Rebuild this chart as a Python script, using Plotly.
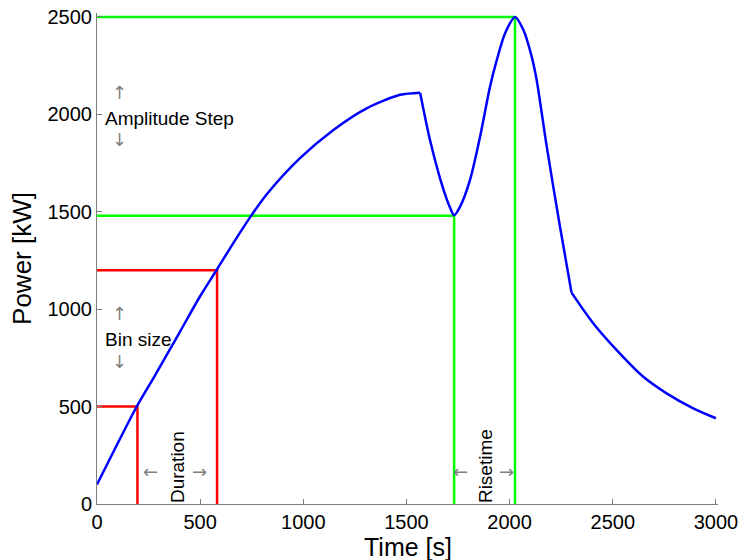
import plotly.graph_objects as go

# Power curve, split at its two sharp corners
rise_t = [0, 194, 273, 400, 499, 582, 660, 750, 823, 984, 1146, 1307, 1469, 1566]
rise_p = [100, 503, 645, 880, 1065, 1205, 1338, 1484, 1590, 1775, 1920, 2031, 2100, 2111]

peak_t = [1566, 1614, 1663, 1695, 1711, 1731, 1760, 1808, 1857, 1905, 1938, 1978, 2026,
          2067, 2107, 2131, 2180, 2244, 2300]
peak_p = [2111, 1868, 1670, 1565, 1522, 1482, 1526, 1663, 1886, 2142, 2279, 2416, 2500,
          2433, 2296, 2176, 1834, 1424, 1085]

tail_t = [2300, 2405, 2519, 2648, 2761, 2890, 3000]
tail_p = [1085, 928, 790, 653, 568, 491, 440]

# Bin size / duration markers (red)
red_t = [196, 582]
red_p = [500, 1200]
# Amplitude step / risetime markers (green)
green_t = [1731, 2026]
green_p = [1480, 2500]

x_ticks = [0, 500, 1000, 1500, 2000, 2500, 3000]
y_ticks = [0, 500, 1000, 1500, 2000, 2500]

FONT = "Liberation Sans, Arial, sans-serif"
ARROW_FONT = "DejaVu Sans, sans-serif"
GRAY = "#7f7f7f"

fig = go.Figure()

def bracket(t, p, color):
    fig.add_trace(go.Scatter(x=[0, t, t], y=[p, p, 0], mode="lines",
                             line=dict(color=color, width=2.5), showlegend=False,
                             hoverinfo="skip"))

for t, p in zip(red_t, red_p):
    bracket(t, p, "#ff0000")
for t, p in zip(green_t, green_p):
    bracket(t, p, "#00ff00")

for xs, ys in [(rise_t, rise_p), (peak_t, peak_p), (tail_t, tail_p)]:
    fig.add_trace(go.Scatter(x=xs, y=ys, mode="lines",
                             line=dict(color="#0000ff", width=2.5, shape="spline",
                                       smoothing=0.8),
                             showlegend=False))

def note(x, y, text, color="black", size=19, angle=0, xanchor="center", family=FONT):
    fig.add_annotation(x=x, y=y, xref="x", yref="y", text=text, showarrow=False,
                       textangle=angle, xanchor=xanchor, yanchor="middle",
                       font=dict(family=family, size=size, color=color))

def arrow(x, y, glyph):
    note(x, y, glyph, color=GRAY, size=18, family=ARROW_FONT)

# Amplitude step
note(29, 1981, "Amplitude Step", xanchor="left")
arrow(107, 2112, "↑")
arrow(107, 1870, "↓")
# Bin size
note(29, 842, "Bin size", xanchor="left")
arrow(107, 980, "↑")
arrow(107, 733, "↓")
# Duration
note(393, 190, "Duration", angle=-90)
arrow(257, 169, "←")
arrow(499, 169, "→")
# Risetime
note(1881, 195, "Risetime", angle=-90)
arrow(1764, 169, "←")
arrow(1987, 169, "→")

# x-axis title placed just below the tick labels
fig.add_annotation(x=0.5, y=-0.087, xref="paper", yref="paper", text="Time [s]",
                   showarrow=False, xanchor="center", yanchor="middle",
                   font=dict(family=FONT, size=25, color="black"))

axis_common = dict(showgrid=False, zeroline=False, showline=True, linecolor=GRAY,
                   linewidth=1, ticks="inside", ticklen=5, tickcolor=GRAY,
                   tickfont=dict(family=FONT, size=20, color="black"))

fig.update_xaxes(range=[0, 3010], tickvals=x_ticks, ticktext=[str(v) for v in x_ticks],
                 **axis_common)
fig.update_yaxes(range=[0, 2520], tickvals=y_ticks, ticktext=[str(v) for v in y_ticks],
                 title=dict(text="Power [kW]", font=dict(family=FONT, size=26, color="black"),
                            standoff=8),
                 **axis_common)

fig.update_layout(width=740, height=560, margin=dict(l=97, r=22, t=13, b=56, autoexpand=False),
                  plot_bgcolor="white", paper_bgcolor="white", showlegend=False)

fig.write_html("out.html")
